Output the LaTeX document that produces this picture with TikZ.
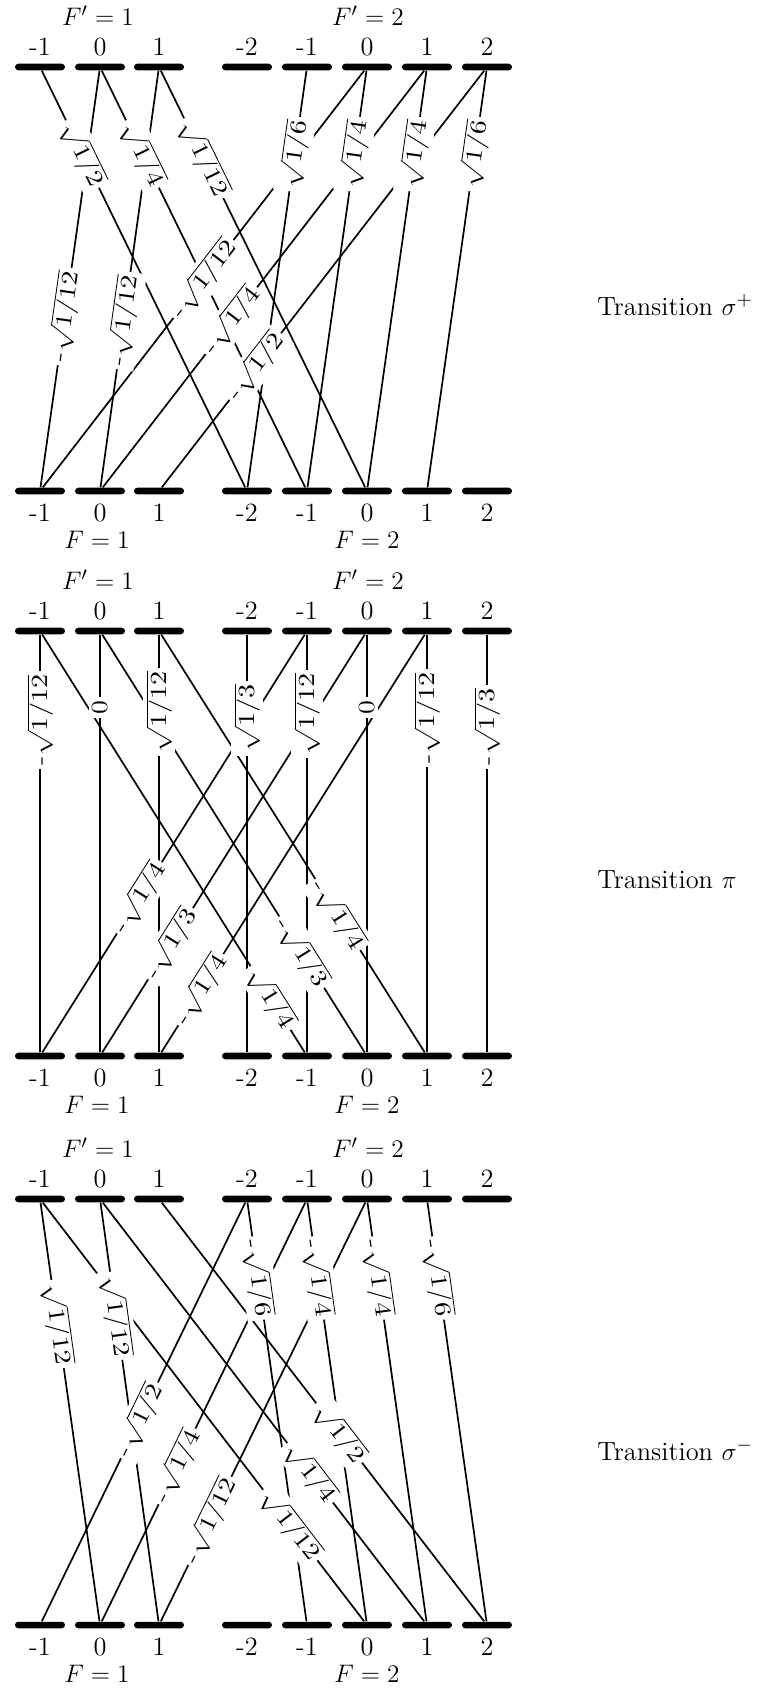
\documentclass[tikz,border=0pt]{standalone}
\usepackage{graphicx}
\pgfdeclarelayer{bg}
\pgfsetlayers{bg,main}
\tikzset{
  bar/.style={rectangle, fill=black, minimum width=23.7pt, minimum height=3.1pt, inner sep=0pt, rounded corners=1.55pt},
  lvl/.style={anchor=base, inner sep=0pt, font=\fontsize{12.5}{14}\selectfont},
  conn/.style={line width=0.8pt},
  lbl/.style={sloped, fill=white, inner sep=1.6pt, font=\fontsize{11}{13}\selectfont},
  trans/.style={anchor=base west, inner sep=0pt, font=\fontsize{12.5}{14}\selectfont},
}
\newcommand\tr[4]{%
  \begin{pgfonlayer}{bg}\draw[conn] (#1) -- (#2);\end{pgfonlayer}
  \path (#1) -- node[lbl,pos=#3] {\scalebox{1.22}[1]{#4}} (#2);}
\newcommand\panel[3]{%
  \foreach \nm/\xp/\txt in {n1/40/-1, z/100/0, p1/159/1}{
    \node[bar] (#1e1\nm) at (\xp,#2) {};
    \node[lvl] (#1e1\nm L) at (\xp,#2-11.5) {\txt};
    \node[bar] (#1g1\nm) at (\xp,#3) {};
    \node[lvl] (#1g1\nm L) at (\xp,#3+30) {\txt};
  }
  \foreach \nm/\xp/\txt in {n2/247/-2, n1/307/-1, z/367/0, p1/427/1, p2/487/2}{
    \node[bar] (#1e2\nm) at (\xp,#2) {};
    \node[lvl] (#1e2\nm L) at (\xp,#2-11.5) {\txt};
    \node[bar] (#1g2\nm) at (\xp,#3) {};
    \node[lvl] (#1g2\nm L) at (\xp,#3+30) {\txt};
  }
  \node[lvl] (#1Fe1) at (98,#2-41.5) {$F'=1$};
  \node[lvl] (#1Fe2) at (368,#2-41.5) {$F'=2$};
  \node[lvl] (#1Fg1) at (97,#3+57) {$F=1$};
  \node[lvl] (#1Fg2) at (367,#3+57) {$F=2$};
}
\begin{document}
\begin{tikzpicture}[x=0.474pt,y=-0.474pt]
\useasboundingbox (0,0) rectangle (775,1690);
\panel{A}{67}{491}
\panel{B}{631}{1056}
\panel{C}{1199}{1625}

% sigma+
\tr{Ag2n2}{Ae1n1}{0.8}{$\sqrt{1/2}$}
\tr{Ag1n1}{Ae1z}{0.41}{-$\sqrt{1/12}$}
\tr{Ag2n1}{Ae1z}{0.8}{$\sqrt{1/4}$}
\tr{Ag1z}{Ae1p1}{0.4}{-$\sqrt{1/12}$}
\tr{Ag2z}{Ae1p1}{0.79}{$\sqrt{1/12}$}
\tr{Ag2n2}{Ae2n1}{0.8}{$\sqrt{1/6}$}
\tr{Ag1n1}{Ae2z}{0.5}{-$\sqrt{1/12}$}
\tr{Ag2n1}{Ae2z}{0.8}{$\sqrt{1/4}$}
\tr{Ag1z}{Ae2p1}{0.4}{-$\sqrt{1/4}$}
\tr{Ag2z}{Ae2p1}{0.8}{$\sqrt{1/4}$}
\tr{Ag1p1}{Ae2p2}{0.29}{-$\sqrt{1/2}$}
\tr{Ag2p1}{Ae2p2}{0.8}{$\sqrt{1/6}$}

% pi
\tr{Bg1n1}{Be1n1}{0.795}{-$\sqrt{1/12}$}
\tr{Bg2n1}{Be1n1}{0.13}{$\sqrt{1/4}$}
\tr{Bg1z}{Be1z}{0.826}{0}
\tr{Bg2z}{Be1z}{0.24}{-$\sqrt{1/3}$}
\tr{Bg1p1}{Be1p1}{0.815}{$\sqrt{1/12}$}
\tr{Bg2p1}{Be1p1}{0.33}{-$\sqrt{1/4}$}
\tr{Bg2n2}{Be2n2}{0.8}{$\sqrt{1/3}$}
\tr{Bg2n1}{Be2n1}{0.81}{$\sqrt{1/12}$}
\tr{Bg1n1}{Be2n1}{0.37}{-$\sqrt{1/4}$}
\tr{Bg2z}{Be2z}{0.826}{0}
\tr{Bg1z}{Be2z}{0.26}{-$\sqrt{1/3}$}
\tr{Bg2p1}{Be2p1}{0.8}{-$\sqrt{1/12}$}
\tr{Bg1p1}{Be2p1}{0.15}{-$\sqrt{1/4}$}
\tr{Bg2p2}{Be2p2}{0.78}{-$\sqrt{1/3}$}

% sigma-
\tr{Cg1z}{Ce1n1}{0.71}{$\sqrt{1/12}$}
\tr{Cg2z}{Ce1n1}{0.23}{$\sqrt{1/12}$}
\tr{Cg1p1}{Ce1z}{0.73}{$\sqrt{1/12}$}
\tr{Cg2p1}{Ce1z}{0.355}{$\sqrt{1/4}$}
\tr{Cg2p2}{Ce1p1}{0.45}{$\sqrt{1/2}$}
\tr{Cg1n1}{Ce2n2}{0.48}{-$\sqrt{1/2}$}
\tr{Cg2n1}{Ce2n2}{0.82}{-$\sqrt{1/6}$}
\tr{Cg1z}{Ce2n1}{0.37}{-$\sqrt{1/4}$}
\tr{Cg2z}{Ce2n1}{0.82}{-$\sqrt{1/4}$}
\tr{Cg1p1}{Ce2z}{0.24}{-$\sqrt{1/12}$}
\tr{Cg2p1}{Ce2z}{0.82}{-$\sqrt{1/4}$}
\tr{Cg2p2}{Ce2p1}{0.82}{-$\sqrt{1/6}$}

\node[trans] (tA) at (597,315) {Transition $\sigma^+$};
\node[trans] (tB) at (597,888) {Transition $\pi$};
\node[trans] (tC) at (597,1460) {Transition $\sigma^-$};
\end{tikzpicture}
\end{document}
